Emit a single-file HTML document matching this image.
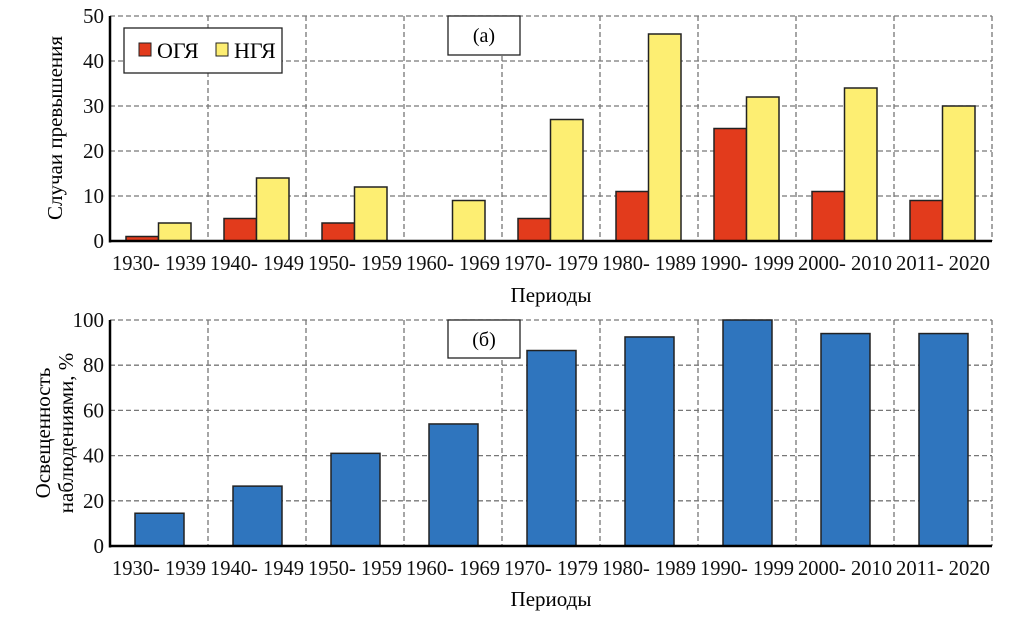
<!DOCTYPE html>
<html><head><meta charset="utf-8"><style>
body{margin:0;background:#fff}
svg{font-family:"Liberation Serif","DejaVu Serif",serif}
</style></head><body>
<svg id="c" width="1018" height="625"></svg>
<script>
const categories=["1930-1939","1940-1949","1950-1959","1960-1969","1970-1979","1980-1989","1990-1999","2000-2010","2011-2020"];
const ogyValues=[1,5,4,0,5,11,25,11,9];
const ngyValues=[4,14,12,9,27,46,32,34,30];
const coverageValues=[14.5,26.5,41,54,86.5,92.5,100,94,94];
const topTicks=[0,10,20,30,40,50];
const bottomTicks=[0,20,40,60,80,100];
const NS="http://www.w3.org/2000/svg";
const svg=document.getElementById('c');
function mk(t,a,p){const e=document.createElementNS(NS,t);for(const k in a)e.setAttribute(k,a[k]);(p||svg).appendChild(e);return e;}
const X0=110,X1=992,CW=(X1-X0)/categories.length;
function panel(top,bot,max,ticks,name){
  const y=v=>bot-(v/max)*(bot-top);
  const g=mk('g',{});
  
  
  ticks.forEach(t=>{if(t>0)mk('line',{x1:X0,x2:X1,y1:y(t),y2:y(t),stroke:'#777','stroke-dasharray':'5,3','stroke-width':1.3},g);
    const tx=mk('text',{x:X0-6,y:y(t)+7,'text-anchor':'end','font-size':21,fill:'#111'});tx.textContent=t;
    
    });
  for(let i=1;i<=categories.length;i++)mk('line',{x1:X0+i*CW,x2:X0+i*CW,y1:top,y2:bot,stroke:'#777','stroke-dasharray':'5,3','stroke-width':1.3},g);
  categories.forEach((c,i)=>{const tx=mk('text',{x:X0+(i+0.5)*CW,y:bot+29,'text-anchor':'middle','font-size':21,fill:'#111',textLength:94,lengthAdjust:'spacingAndGlyphs'});tx.textContent=c.replace('-','- ');
    
    });
  return y;
}
function axes(top,bot){
  mk('line',{x1:X0,x2:X0,y1:top,y2:bot+1.5,stroke:'#000','stroke-width':2.5});
  mk('line',{x1:X0,x2:X1,y1:bot,y2:bot,stroke:'#000','stroke-width':2.5});
}
function bar(x,w,yv,yb,fill,name){
  const r=mk('rect',{x:x,y:yv,width:w,height:Math.max(0,yb-yv),fill:fill,stroke:'#222','stroke-width':1.5});
  
  
}
const T1=16,B1=241;
const y1=panel(T1,B1,50,topTicks,'top');
categories.forEach((c,i)=>{
  const cx=X0+i*CW;
  if(ogyValues[i]>0)bar(cx+16,32.5,y1(ogyValues[i]),B1,'#e23b1c','bar-ogy');
  bar(cx+48.5,32.5,y1(ngyValues[i]),B1,'#fdee72','bar-ngy');
});
axes(T1,B1);
const lg=mk('g',{});


mk('rect',{x:124,y:28,width:158,height:45,fill:'#fff',stroke:'#222','stroke-width':1.3},lg);
mk('rect',{x:139,y:43,width:12,height:13,fill:'#e23b1c',stroke:'#222'},lg);
let t=mk('text',{x:157,y:58,'font-size':22},lg);t.textContent='ОГЯ';
mk('rect',{x:216,y:43,width:12,height:13,fill:'#fdee72',stroke:'#222'},lg);
t=mk('text',{x:234,y:58,'font-size':22},lg);t.textContent='НГЯ';
mk('rect',{x:448,y:16,width:72,height:39,fill:'#fff',stroke:'#222','stroke-width':1.3});
t=mk('text',{x:484,y:42,'text-anchor':'middle','font-size':20});t.textContent='(а)';


t=mk('text',{transform:'translate(62,128) rotate(-90)','text-anchor':'middle','font-size':21});t.textContent='Случаи превышения';


t=mk('text',{x:551,y:302,'text-anchor':'middle','font-size':21});t.textContent='Периоды';


const T2=320,B2=546;
const y2=panel(T2,B2,100,bottomTicks,'bottom');
categories.forEach((c,i)=>{
  bar(X0+i*CW+25,49,y2(coverageValues[i]),B2,'#2f75be','bar-coverage');
});
axes(T2,B2);
mk('rect',{x:448,y:320,width:72,height:38,fill:'#fff',stroke:'#222','stroke-width':1.3});
t=mk('text',{x:484,y:346,'text-anchor':'middle','font-size':20});t.textContent='(б)';


t=mk('text',{transform:'translate(50,433) rotate(-90)','text-anchor':'middle','font-size':21});t.textContent='Освещенность';


t=mk('text',{transform:'translate(73,433) rotate(-90)','text-anchor':'middle','font-size':21});t.textContent='наблюдениями, %';


t=mk('text',{x:551,y:606,'text-anchor':'middle','font-size':21});t.textContent='Периоды';


</script>
</body></html>
